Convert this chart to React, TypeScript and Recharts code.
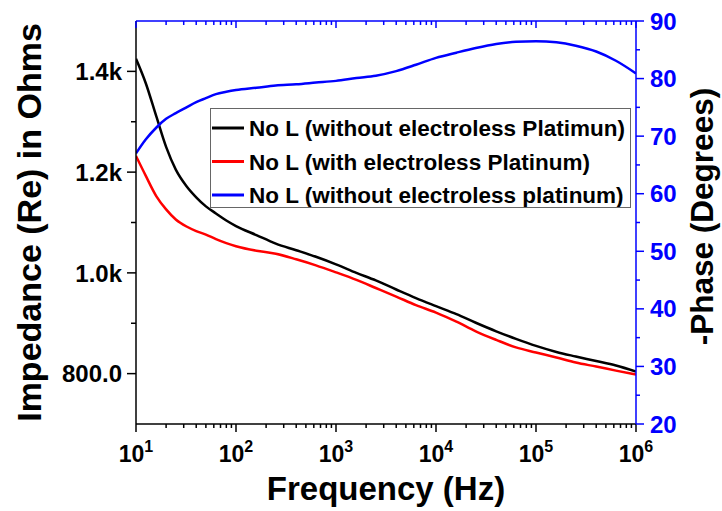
import React from 'react';
import { LineChart, Line, XAxis, YAxis, Legend } from 'recharts';

const freqHz = [10, 12.5, 16, 20, 25, 32, 40, 50, 63, 80, 100, 160, 250, 400, 630, 1000, 1600, 2500, 4000, 6300, 10000, 16000, 25000, 40000, 63000, 100000, 160000, 250000, 400000, 630000, 1000000];

const impWithout = [1425, 1377, 1310, 1250, 1205, 1172, 1150, 1132, 1118, 1104, 1093, 1075, 1058, 1045, 1032, 1017, 1000, 985, 967, 950, 934, 918, 901, 884, 869, 855, 843, 834, 825, 816, 804];
const impWith = [1232, 1193, 1152, 1126, 1106, 1092, 1083, 1076, 1067, 1059, 1053, 1044, 1038, 1027, 1015, 1001, 986, 970, 953, 936, 921, 903, 884, 867, 852, 842, 832, 822, 814, 806, 798];
const phaseWithout = [67.0, 69.4, 71.5, 73.0, 74.0, 75.0, 75.9, 76.6, 77.3, 77.7, 78.0, 78.4, 78.8, 79.0, 79.3, 79.6, 80.1, 80.5, 81.3, 82.4, 83.6, 84.5, 85.3, 86.0, 86.4, 86.5, 86.3, 85.7, 84.7, 83.1, 80.9];

const seriesNames = [
  'No L (without electroless Platimun)',
  'No L (with electroless Platinum)',
  'No L (without electroless platinum)',
];
const seriesColors = ['#000000', '#ff0000', '#0000ff'];

const xTicks: number[] = [];
for (let d = 1; d <= 5; d++) {
  for (let m = 1; m <= 9; m++) xTicks.push(m * Math.pow(10, d));
}
xTicks.push(1000000);

const leftTicks = [800, 900, 1000, 1100, 1200, 1300, 1400];
const leftMajor: Record<number, string> = { 800: '800.0', 1000: '1.0k', 1200: '1.2k', 1400: '1.4k' };
const rightTicks = [20, 25, 30, 35, 40, 45, 50, 55, 60, 65, 70, 75, 80, 85, 90];

const blackData = freqHz.map((f, i) => ({ f, v: impWithout[i] }));
const redData = freqHz.map((f, i) => ({ f, v: impWith[i] }));
const blueData = freqHz.map((f, i) => ({ f, v: phaseWithout[i] }));

const FONT = "'Liberation Sans', Arial, Helvetica, sans-serif";

const isDecade = (v: number) => {
  const e = Math.log10(v);
  return Math.abs(e - Math.round(e)) < 1e-6;
};

const BottomTick = (props: any) => {
  const { x, y, payload } = props;
  const v = payload.value;
  const major = isDecade(v);
  return (
    <g>
      <line x1={x} x2={x} y1={y} y2={y + (major ? 8 : 4)} stroke="#000" strokeWidth={1.5} />
      {major && (
        <text x={x} y={y + 38} textAnchor="middle" fontFamily={FONT} fontWeight="bold" fontSize={23} fill="#000">
          10<tspan dy={-10} fontSize={16}>{Math.round(Math.log10(v))}</tspan>
        </text>
      )}
    </g>
  );
};

const TopTick = (props: any) => {
  const { x, y, payload } = props;
  const major = isDecade(payload.value);
  return <line x1={x} x2={x} y1={y} y2={y + (major ? 7 : 4)} stroke="#0000ff" strokeWidth={1.5} />;
};

const LeftTick = (props: any) => {
  const { x, y, payload } = props;
  const label = leftMajor[payload.value];
  return (
    <g>
      <line x1={x - (label ? 9 : 5)} x2={x} y1={y} y2={y} stroke="#000" strokeWidth={1.5} />
      {label && (
        <text x={x - 14} y={y} dy="0.36em" textAnchor="end" fontFamily={FONT} fontWeight="bold" fontSize={24} fill="#000">
          {label}
        </text>
      )}
    </g>
  );
};

const RightTick = (props: any) => {
  const { x, y, payload } = props;
  const major = payload.value % 10 === 0;
  return (
    <g>
      <line x1={x} x2={x + (major ? 8 : 4)} y1={y} y2={y} stroke="#0000ff" strokeWidth={1.5} />
      {major && (
        <text x={x + 14} y={y} dy="0.36em" textAnchor="start" fontFamily={FONT} fontWeight="bold" fontSize={24} fill="#0000ff">
          {payload.value}
        </text>
      )}
    </g>
  );
};

const LegendBox = () => (
  <div
    style={{
      boxSizing: 'border-box',
      width: 421,
      height: 100,
      border: '1px solid #666',
      background: '#fff',
    }}
  >
    <svg width={419} height={98} style={{ display: 'block' }}>
      {seriesNames.map((name, i) => {
        const cy = 19 + i * 33.5;
        return (
          <g key={name}>
            <line x1={1} x2={33} y1={cy} y2={cy} stroke={seriesColors[i]} strokeWidth={3} />
            <text x={38} y={cy} dy="0.36em" fontFamily={FONT} fontWeight="bold" fontSize={22.5} fill="#000">
              {name}
            </text>
          </g>
        );
      })}
    </svg>
  </div>
);

const LeftTitle = () => (
  <text x={41} y={222.5} transform="rotate(-90, 41, 222.5)" textAnchor="middle" fontFamily={FONT} fontWeight="bold" fontSize={34} fill="#000">
    Impedance (Re) in Ohms
  </text>
);

const RightTitle = () => (
  <text x={713} y={216.5} transform="rotate(-90, 713, 216.5)" textAnchor="middle" fontFamily={FONT} fontWeight="bold" fontSize={31.5} fill="#000">
    -Phase (Degrees)
  </text>
);

const BottomTitle = () => (
  <text x={386} y={500} textAnchor="middle" fontFamily={FONT} fontWeight="bold" fontSize={33} fill="#000">
    Frequency (Hz)
  </text>
);

export default function App() {
  return (
    <div style={{ position: 'absolute', left: 0, top: 0, background: '#fff' }}>
      <LineChart width={722} height={511} margin={{ top: 11, right: 0, bottom: 0, left: 0 }}>
        <XAxis
          xAxisId="bottom"
          dataKey="f"
          type="number"
          scale="log"
          domain={[10, 1000000]}
          allowDataOverflow
          ticks={xTicks}
          interval={0}
          height={87}
          tickSize={0}
          tickMargin={0}
          tickLine={false}
          tick={BottomTick}
          axisLine={{ stroke: '#000', strokeWidth: 1.5 }}
          label={BottomTitle}
        />
        <XAxis
          xAxisId="top"
          orientation="top"
          dataKey="f"
          type="number"
          scale="log"
          domain={[10, 1000000]}
          allowDataOverflow
          ticks={xTicks}
          interval={0}
          height={10}
          tickSize={0}
          tickMargin={0}
          tickLine={false}
          tick={TopTick}
          axisLine={{ stroke: '#0000ff', strokeWidth: 1.5 }}
        />
        <YAxis
          yAxisId="left"
          type="number"
          domain={[700, 1500]}
          allowDataOverflow
          ticks={leftTicks}
          interval={0}
          width={136}
          tickSize={0}
          tickMargin={0}
          tickLine={false}
          tick={LeftTick}
          axisLine={{ stroke: '#000', strokeWidth: 1.5 }}
          label={LeftTitle}
        />
        <YAxis
          yAxisId="right"
          orientation="right"
          type="number"
          domain={[20, 90]}
          allowDataOverflow
          ticks={rightTicks}
          interval={0}
          width={86}
          tickSize={0}
          tickMargin={0}
          tickLine={false}
          tick={RightTick}
          axisLine={{ stroke: '#0000ff', strokeWidth: 1.5 }}
          label={RightTitle}
        />
        <Legend
          layout="vertical"
          align="center"
          verticalAlign="middle"
          content={LegendBox}
          wrapperStyle={{ position: 'absolute', left: 210, top: 108, width: 421, height: 100 }}
        />
        <Line
          xAxisId="bottom"
          yAxisId="left"
          data={blackData}
          dataKey="v"
          name={seriesNames[0]}
          stroke={seriesColors[0]}
          strokeWidth={2.5}
          dot={false}
          type="monotone"
          isAnimationActive={false}
        />
        <Line
          xAxisId="bottom"
          yAxisId="left"
          data={redData}
          dataKey="v"
          name={seriesNames[1]}
          stroke={seriesColors[1]}
          strokeWidth={2.5}
          dot={false}
          type="monotone"
          isAnimationActive={false}
        />
        <Line
          xAxisId="top"
          yAxisId="right"
          data={blueData}
          dataKey="v"
          name={seriesNames[2]}
          stroke={seriesColors[2]}
          strokeWidth={2.5}
          dot={false}
          type="monotone"
          isAnimationActive={false}
        />
      </LineChart>
    </div>
  );
}
